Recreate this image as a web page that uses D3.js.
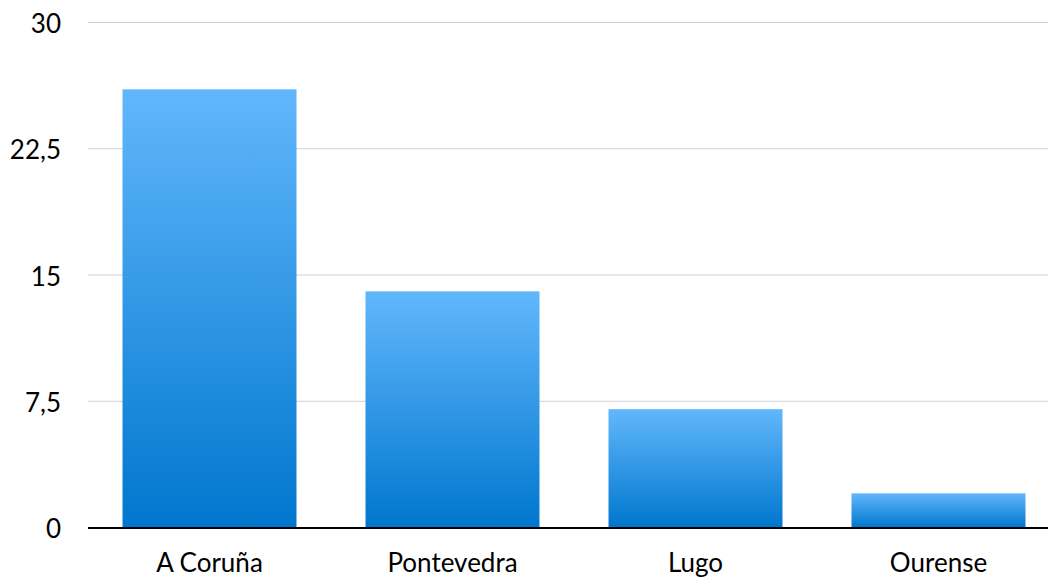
<!DOCTYPE html>
<html>
<meta charset="utf-8">
<script src="https://d3js.org/d3.v7.min.js"></script>
<style>
  body { margin: 0; background: #fff; }
  text { font-family: Lato, "Open Sans", sans-serif; fill: #000; }
</style>
<div id="my_dataviz"></div>
<script>
// data
var provinces = ["A Coruña", "Pontevedra", "Lugo", "Ourense"];
var values = [26, 14, 7, 2];
var yTicks = [0, 7.5, 15, 22.5, 30];

var W = 1048, H = 578;
var margin = {top: 22, left: 88, bottom: 51};

var svg = d3.select("#my_dataviz")
  .append("svg")
    .attr("width", W)
    .attr("height", H);

// gradient for the bars
var grad = svg.append("defs").append("linearGradient")
    .attr("id", "barGrad")
    .attr("x1", 0).attr("y1", 0).attr("x2", 0).attr("y2", 1);
grad.append("stop").attr("offset", "0%").attr("stop-color", "#62b7fc");
grad.append("stop").attr("offset", "100%").attr("stop-color", "#0077ce");

var x = d3.scaleBand()
  .domain(provinces)
  .range([margin.left, margin.left + 4 * 243])
  .paddingInner(0.284)
  .paddingOuter(0.142);

var y = d3.scaleLinear()
  .domain([0, 30])
  .range([H - margin.bottom, margin.top]);

// grid lines
svg.append("g")
  .selectAll("line")
  .data(yTicks.filter(function(d) { return d > 0; }))
  .enter().append("line")
    .attr("x1", margin.left)
    .attr("x2", W)
    .attr("y1", function(d) { return y(d) + 0.5; })
    .attr("y2", function(d) { return y(d) + 0.5; })
    .attr("stroke", "#d0d0d0")
    .attr("stroke-width", 1);

// y labels
svg.append("g")
  .selectAll("text")
  .data(yTicks)
  .enter().append("text")
    .attr("x", 61)
    .attr("y", function(d) { return y(d) + 11; })
    .attr("text-anchor", "end")
    .style("font-size", "26px")
    .text(function(d) { return String(d).replace(".", ","); });

// bars
svg.selectAll("rect.bar")
  .data(values)
  .enter().append("rect")
    .attr("class", "bar")
    .attr("x", function(d, i) { return x(provinces[i]); })
    .attr("y", function(d) { return y(d); })
    .attr("width", x.bandwidth())
    .attr("height", function(d) { return y(0) - y(d); })
    .attr("fill", "url(#barGrad)");

// baseline
svg.append("line")
  .attr("x1", margin.left)
  .attr("x2", W)
  .attr("y1", y(0) + 1)
  .attr("y2", y(0) + 1)
  .attr("stroke", "#000")
  .attr("stroke-width", 2);

// x labels
svg.append("g")
  .selectAll("text")
  .data(provinces)
  .enter().append("text")
    .attr("x", function(d) { return x(d) + x.bandwidth() / 2; })
    .attr("y", 572)
    .attr("text-anchor", "middle")
    .style("font-size", "26px")
    .text(function(d) { return d; });
</script>
</html>
